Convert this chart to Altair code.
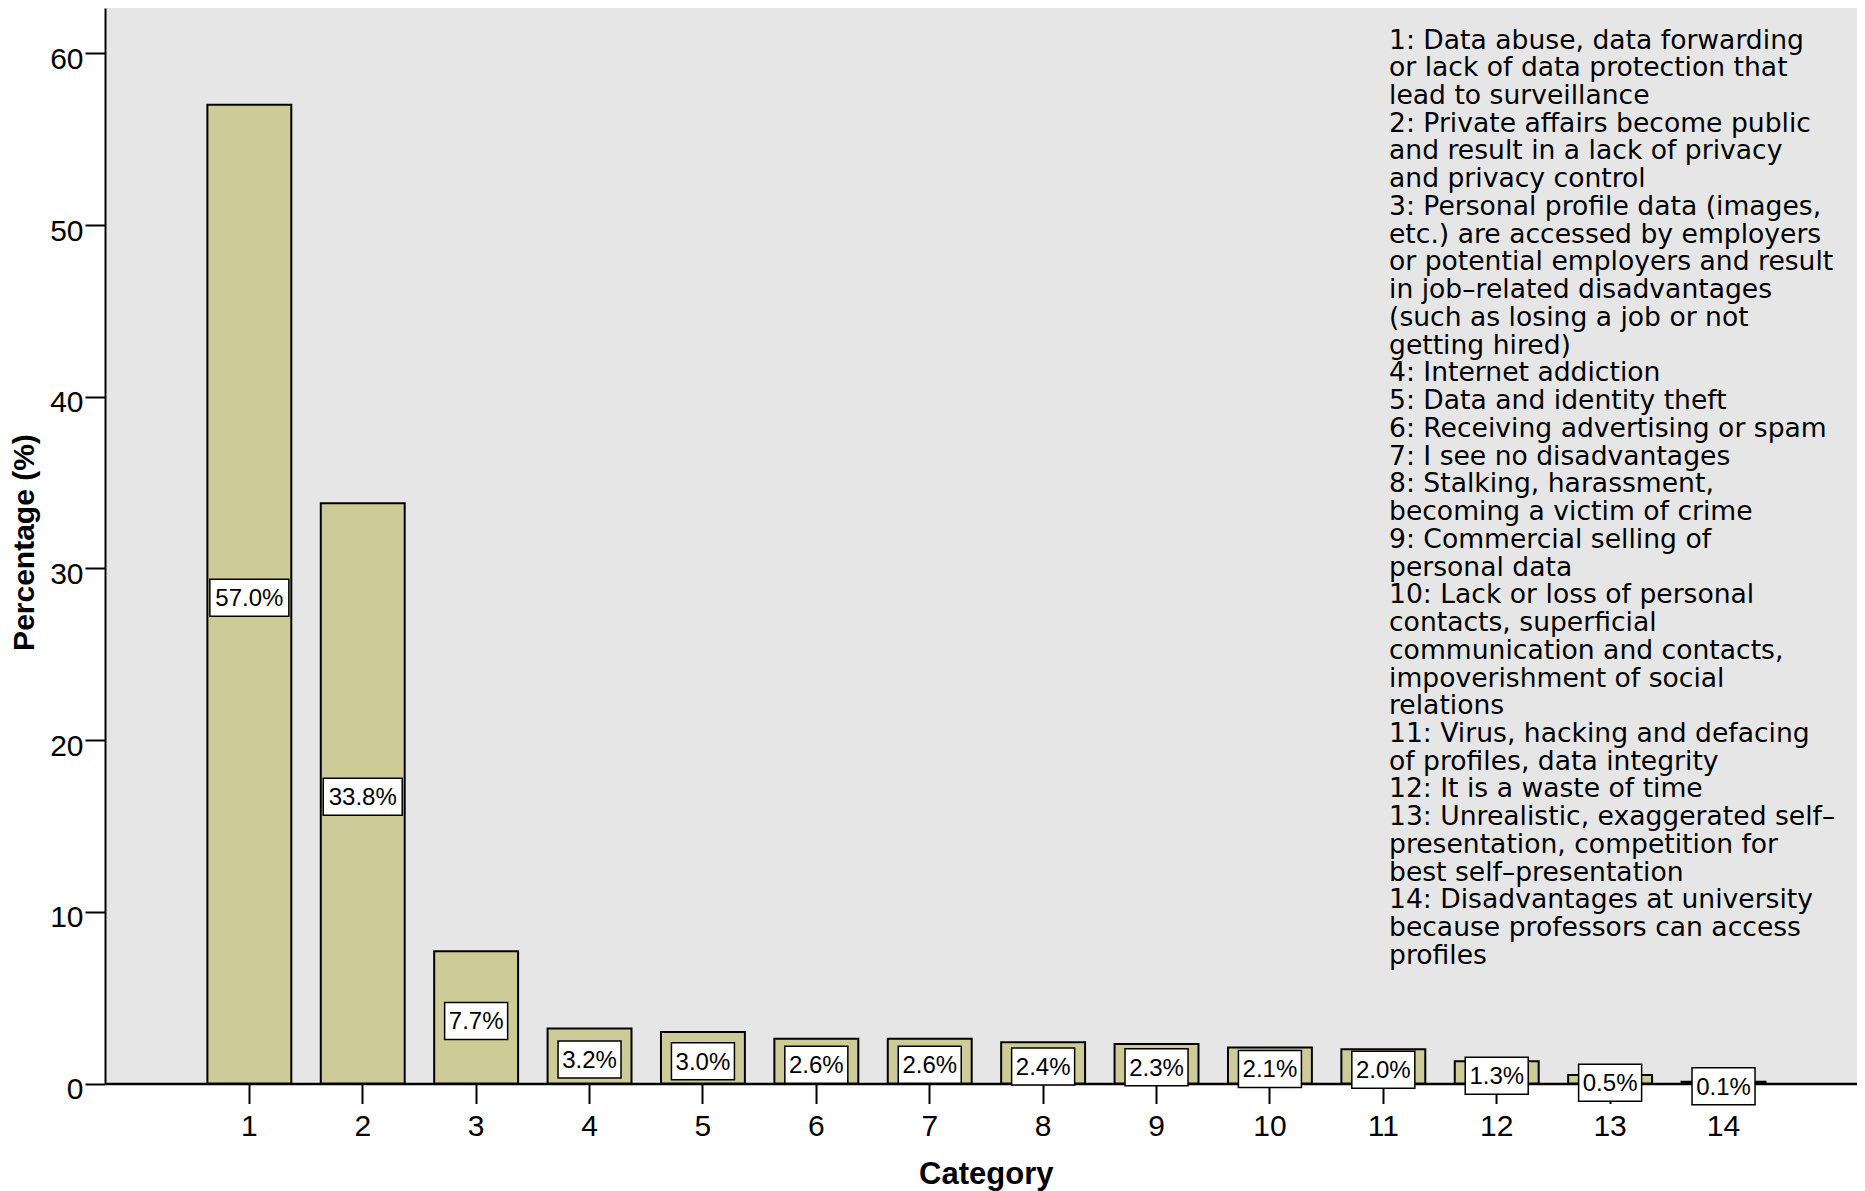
import altair as alt
import pandas as pd

categories = ["1", "2", "3", "4", "5", "6", "7", "8", "9", "10", "11", "12", "13", "14"]
percentages = [57.0, 33.8, 7.7, 3.2, 3.0, 2.6, 2.6, 2.4, 2.3, 2.1, 2.0, 1.3, 0.5, 0.1]
value_labels = ["57.0%", "33.8%", "7.7%", "3.2%", "3.0%", "2.6%", "2.6%", "2.4%",
                "2.3%", "2.1%", "2.0%", "1.3%", "0.5%", "0.1%"]
y_ticks = [0, 10, 20, 30, 40, 50, 60]

legend_lines = [
    "1: Data abuse, data forwarding",
    "or lack of data protection that",
    "lead to surveillance",
    "2: Private affairs become public",
    "and result in a lack of privacy",
    "and privacy control",
    "3: Personal profile data (images,",
    "etc.) are accessed by employers",
    "or potential employers and result",
    "in job\u2013related disadvantages",
    "(such as losing a job or not",
    "getting hired)",
    "4: Internet addiction",
    "5: Data and identity theft",
    "6: Receiving advertising or spam",
    "7: I see no disadvantages",
    "8: Stalking, harassment,",
    "becoming a victim of crime",
    "9: Commercial selling of",
    "personal data",
    "10: Lack or loss of personal",
    "contacts, superficial",
    "communication and contacts,",
    "impoverishment of social",
    "relations",
    "11: Virus, hacking and defacing",
    "of profiles, data integrity",
    "12: It is a waste of time",
    "13: Unrealistic, exaggerated self\u2013",
    "presentation, competition for",
    "best self\u2013presentation",
    "14: Disadvantages at university",
    "because professors can access",
    "profiles",
]

df = pd.DataFrame({"cat": categories, "pct": percentages, "label": value_labels})

NUM_FONT = "Liberation Sans"

x_axis = alt.Axis(
    title="Category", labelAngle=0, tickSize=20, tickWidth=2, tickColor="black",
    domainWidth=2.5, domainColor="black", labelFont=NUM_FONT, labelFontSize=30,
    labelColor="black", labelPadding=8, titleFont=NUM_FONT, titleFontSize=31,
    titleFontWeight="bold", titleColor="black", titleX=880.8, titleY=99.8,
    titleAlign="center", titleBaseline="alphabetic", grid=False, zindex=0,
)
y_axis = alt.Axis(
    title="Percentage (%)", values=y_ticks, tickSize=20, tickWidth=2, tickColor="black",
    domainWidth=2, domainColor="black", labelFont=NUM_FONT, labelFontSize=30,
    labelColor="black", labelPadding=2, labelOffset=6, labelFlush=False,
    titleFont=NUM_FONT, titleFontSize=30, titleFontWeight="bold", titleColor="black",
    titleAngle=270, titleX=-72, titleY=534, titleAlign="center",
    titleBaseline="alphabetic", grid=False, zindex=0,
)

x_scale = alt.Scale(paddingInner=0.26, paddingOuter=0.855, align=0.528)
y_scale = alt.Scale(domain=[0, 62.64], nice=False, zero=True)

x_enc = alt.X("cat:N", sort=categories, scale=x_scale, axis=x_axis)

bars = alt.Chart(df).mark_bar(color="#cdcc99", stroke="black", strokeWidth=2).encode(
    x=x_enc,
    y=alt.Y("pct:Q", scale=y_scale, axis=y_axis),
)

base_lbl = alt.Chart(df).transform_calculate(half="datum.pct / 2")

box5 = base_lbl.transform_filter("length(datum.label) == 5").mark_point(
    shape="M-1,-0.468H1V0.468H-1Z", size=79 * 79, filled=True, fill="white",
    stroke="black", strokeWidth=1.5, opacity=1, fillOpacity=1, yOffset=3.5,
).encode(x=x_enc, y=alt.Y("half:Q", scale=y_scale, axis=y_axis))

box4 = base_lbl.transform_filter("length(datum.label) != 5").mark_point(
    shape="M-1,-0.587H1V0.587H-1Z", size=63 * 63, filled=True, fill="white",
    stroke="black", strokeWidth=1.5, opacity=1, fillOpacity=1, yOffset=3.5,
).encode(x=x_enc, y=alt.Y("half:Q", scale=y_scale, axis=y_axis))

texts = base_lbl.mark_text(
    font=NUM_FONT, fontSize=24, color="black", align="center", baseline="middle", yOffset=5,
).encode(x=x_enc, y=alt.Y("half:Q", scale=y_scale, axis=y_axis), text="label:N")

legend = alt.Chart(pd.DataFrame({"k": [0]})).mark_text(
    font="DejaVu Sans", fontSize=26.6, color="black", align="left",
    baseline="alphabetic", lineHeight=27.74,
).encode(x=alt.value(1284), y=alt.value(40.5), text=alt.value(legend_lines))

chart = alt.layer(bars, box5, box4, texts, legend).properties(
    width=1752, height=1075.5,
    autosize=alt.AutoSizeParams(type="none"),
    padding={"left": 97, "top": 0, "right": 0, "bottom": 107.5},
).configure_view(fill="#e6e6e6", strokeWidth=0)

chart.save("out.html", embed_options={"renderer": "svg", "actions": False})
